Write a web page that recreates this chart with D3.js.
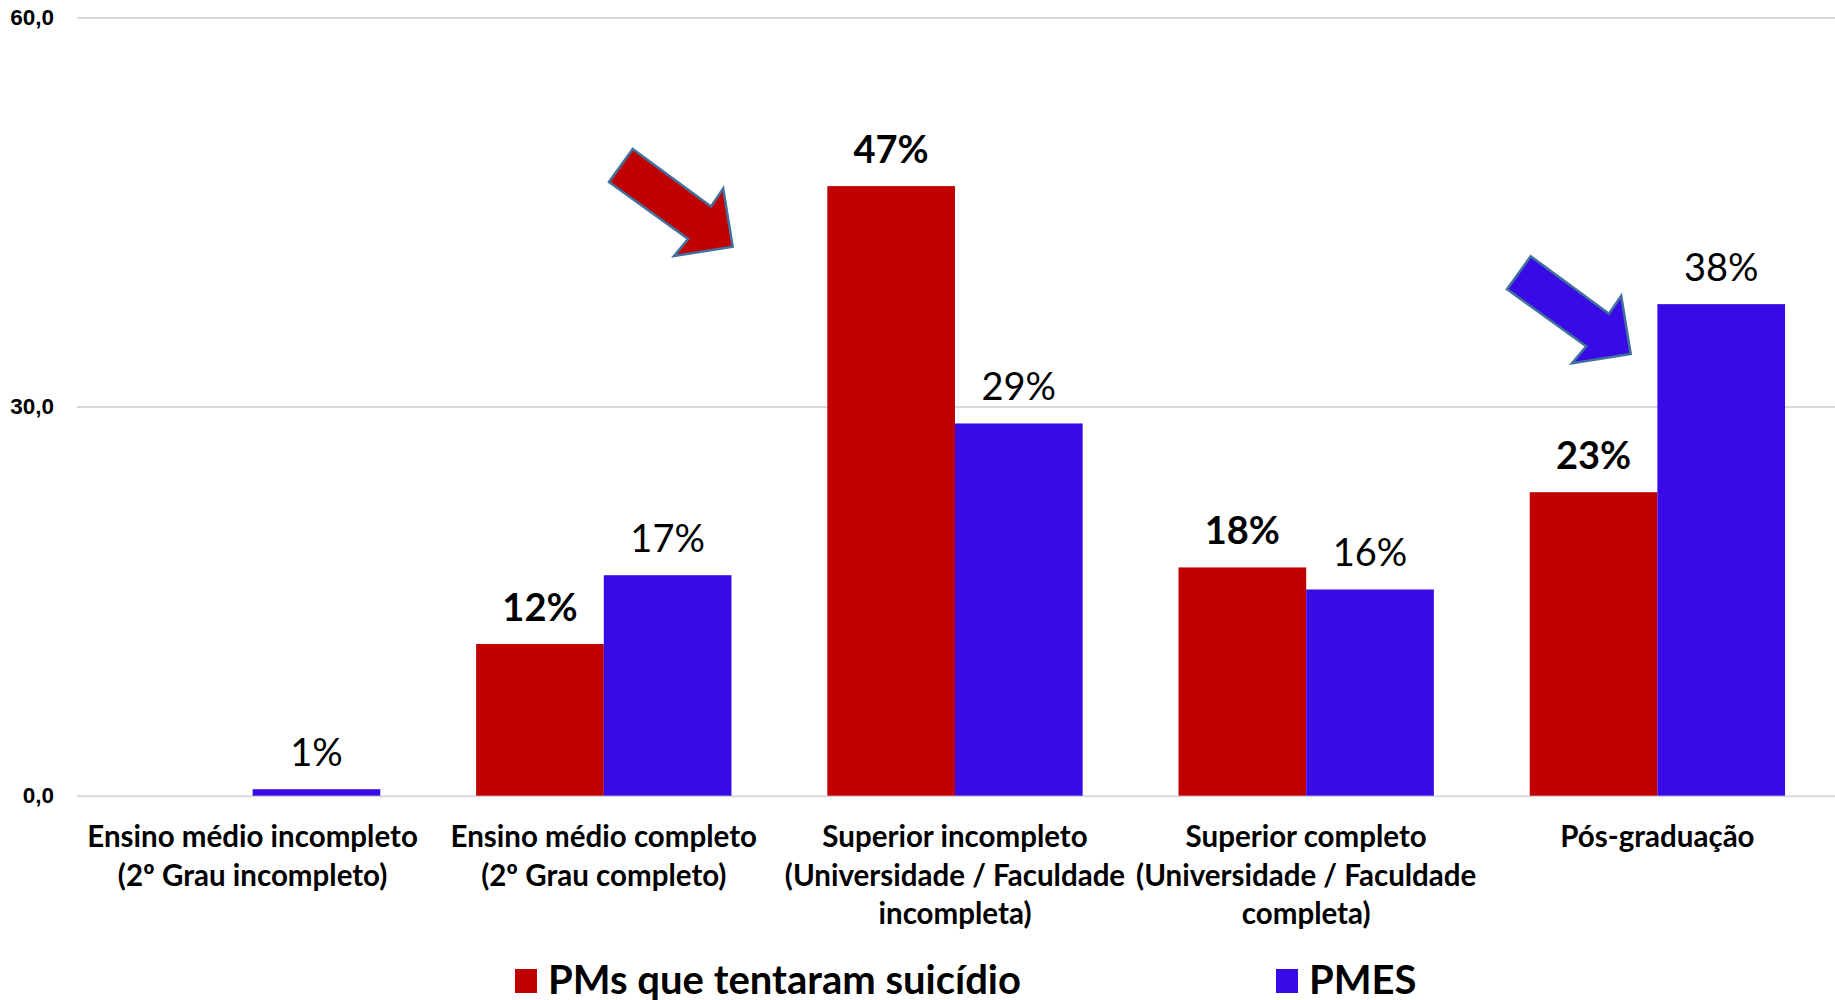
<!DOCTYPE html>
<html>
<head>
<meta charset="utf-8">
<script src="https://cdnjs.cloudflare.com/ajax/libs/d3/7.8.5/d3.min.js"></script>
<style>
  body { margin: 0; background: #fff; }
  svg { font-family: Lato, "Open Sans", sans-serif; }
</style>
</head>
<body>
<svg id="chart" width="1835" height="1000"></svg>
<script>
// categories (lines of each label)
var categories = [
  ["Ensino médio incompleto", "(2º Grau incompleto)"],
  ["Ensino médio completo", "(2º Grau completo)"],
  ["Superior incompleto", "(Universidade / Faculdade", "incompleta)"],
  ["Superior completo", "(Universidade / Faculdade", "completa)"],
  ["Pós-graduação"]
];
var seriesNames = ["PMs que tentaram suicídio", "PMES"];
var tentaram = [0, 11.7, 47.0, 17.6, 23.4];
var pmes = [0.5, 17.0, 28.7, 15.9, 37.9];
var yTicks = [0, 30, 60];

var colors = ["#C00000", "#380AE6"];

var svg = d3.select("#chart");
var margin = { left: 77, right: 1833, top: 17.5, bottom: 795.7 };

var x0 = d3.scaleBand()
  .domain(d3.range(categories.length))
  .range([margin.left, margin.right])
  .paddingInner(0.273)
  .paddingOuter(0.1365);

var x1 = d3.scaleBand()
  .domain([0, 1])
  .range([0, x0.bandwidth()]);

var y = d3.scaleLinear().domain([0, 60]).range([margin.bottom, margin.top]);

// gridlines + tick labels
var yAxis = d3.axisLeft(y)
  .tickValues(yTicks)
  .tickSize(-(1835 - margin.left))
  .tickFormat(function (d) { return d.toFixed(1).replace(".", ","); });

var g = svg.append("g")
  .attr("transform", "translate(" + margin.left + ",0)")
  .call(yAxis);
g.select(".domain").remove();
g.selectAll(".tick line").attr("stroke", "#d9d9d9").attr("stroke-width", 2);
g.selectAll(".tick text")
  .attr("x", -23)
  .attr("font-size", 22.5)
  .attr("font-weight", "bold")
  .attr("fill", "#000");

// bars
var rows = categories.map(function (c, i) {
  return [{ s: 0, v: tentaram[i] }, { s: 1, v: pmes[i] }];
});

var groups = svg.selectAll(".cat")
  .data(rows)
  .enter()
  .append("g")
  .attr("class", "cat")
  .attr("transform", function (d, i) { return "translate(" + x0(i) + ",0)"; });

groups.selectAll("rect")
  .data(function (d) { return d; })
  .enter()
  .append("rect")
  .attr("x", function (d) { return x1(d.s); })
  .attr("y", function (d) { return y(d.v); })
  .attr("width", x1.bandwidth())
  .attr("height", function (d) { return y(0) - y(d.v); })
  .attr("fill", function (d) { return colors[d.s]; });

groups.selectAll("text.val")
  .data(function (d) { return d.filter(function (e) { return e.v > 0; }); })
  .enter()
  .append("text")
  .attr("class", "val")
  .attr("x", function (d) { return x1(d.s) + x1.bandwidth() / 2; })
  .attr("y", function (d) { return y(d.v) - 23; })
  .attr("text-anchor", "middle")
  .attr("font-size", 38)
  .attr("font-weight", function (d) { return d.s == 0 ? "bold" : "normal"; })
  .text(function (d) { return Math.round(d.v) + "%"; });

// category labels
var labels = svg.selectAll(".lbl")
  .data(categories)
  .enter()
  .append("text")
  .attr("class", "lbl")
  .attr("text-anchor", "middle")
  .attr("font-size", 29.5)
  .attr("font-weight", "bold");

labels.selectAll("tspan")
  .data(function (d, i) { return d.map(function (t) { return { t: t, i: i }; }); })
  .enter()
  .append("tspan")
  .attr("x", function (d) { return x0(d.i) + x0.bandwidth() / 2; })
  .attr("y", function (d, k) { return 847 + k * 38.6; })
  .text(function (d) { return d.t; });

// arrows (annotation), tip at origin
var arrowShape = [[0, 0], [-9.5, -58.2], [-21.7, -40.3], [-100, -97.7], [-123.7, -64.8], [-44.5, -7.8], [-58.7, 9.3]];
var arrows = [
  { tip: [732.7, 246.7], color: colors[0] },
  { tip: [1630.7, 354], color: colors[1] }
];
svg.selectAll(".arrow")
  .data(arrows)
  .enter()
  .append("polygon")
  .attr("class", "arrow")
  .attr("points", function (d) {
    return arrowShape.map(function (p) { return (p[0] + d.tip[0]) + "," + (p[1] + d.tip[1]); }).join(" ");
  })
  .attr("fill", function (d) { return d.color; })
  .attr("stroke", "#41719C")
  .attr("stroke-width", 2.5)
  .attr("stroke-linejoin", "miter");

// legend
var legendX = [515, 1276];
var legend = svg.selectAll(".leg")
  .data(seriesNames)
  .enter()
  .append("g")
  .attr("class", "leg")
  .attr("transform", function (d, i) { return "translate(" + legendX[i] + ",0)"; });
legend.append("rect")
  .attr("x", 0).attr("y", 969)
  .attr("width", 22).attr("height", 24)
  .attr("fill", function (d, i) { return colors[i]; });
legend.append("text")
  .attr("x", 33).attr("y", 994)
  .attr("font-size", 40)
  .attr("font-weight", "bold")
  .text(function (d) { return d; });
</script>
</body>
</html>
